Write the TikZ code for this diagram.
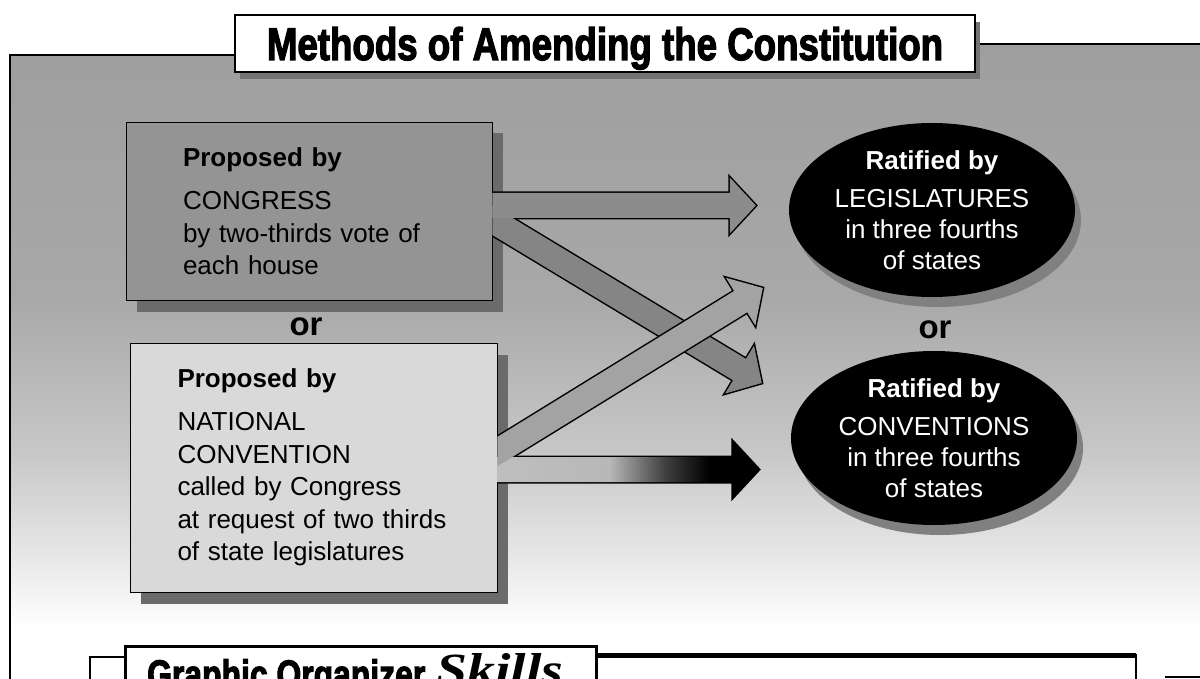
\documentclass[tikz,border=0pt]{standalone}
\usepackage{fontspec}
\setmainfont{Liberation Sans}
\newfontfamily\heavyfont{Liberation Sans}[BoldFeatures={FakeBold=3}]
\newfontfamily\skillfont{Liberation Serif}
\usepackage{graphicx}
\usetikzlibrary{calc,shapes.geometric,shadows}

% grey wash of the panel, dark at the top and fading out at the bottom
\pgfdeclareverticalshading{backfade}{100bp}{color(0bp)=(white); color(29bp)=(white); color(35bp)=(black!10); color(43bp)=(black!22); color(55bp)=(black!34); color(75bp)=(black!38); color(100bp)=(black!38)}
% light grey shaft going to black at the head
\pgfdeclarehorizontalshading{darkarrow}{100bp}{color(0bp)=(black!25); color(25bp)=(black!25); color(48bp)=(black!28); color(58bp)=(black!75); color(66bp)=(black); color(100bp)=(black)}

\tikzset{
  frameline/.style={line width=2.5pt},
  propbox/.style={draw=black, line width=0.8pt, rectangle, inner sep=0pt, align=left,
    font=\fontsize{26}{32.5}\selectfont,
    drop shadow={opacity=1, fill=black!58, shadow xshift=11pt, shadow yshift=-11.5pt}},
  ratify/.style={ellipse, fill=black, text=white, inner sep=0pt, align=center,
    minimum width=286pt, minimum height=174pt, font=\fontsize{26}{31}\selectfont,
    drop shadow={opacity=1, fill=black!50, shadow xshift=6pt, shadow yshift=-10pt}},
  ortext/.style={font=\fontsize{33}{33}\selectfont\bfseries, inner sep=0pt}
}

% fat arrow from #1 to #2, drawn with the options #3
% (the tail starts 15pt behind #1, so it can be clipped at the box edge)
\newcommand{\fatarrow}[3]{%
  \coordinate (ht) at ($(#1)!-15pt!(#2)$);
  \coordinate (hb) at ($(#2)!26pt!(#1)$);
  \path[#3] ($(ht)!12.5pt!90:(#2)$) -- ($(hb)!12.5pt!90:(#2)$) -- ($(hb)!28pt!90:(#2)$)
    -- (#2) -- ($(hb)!28pt!-90:(#2)$) -- ($(hb)!12.5pt!-90:(#2)$) -- ($(ht)!12.5pt!-90:(#2)$) -- cycle;
}

\begin{document}
\begin{tikzpicture}[x=1pt,y=-1pt]
\useasboundingbox (0,0) rectangle (1200,679);

% Panel background and frame
\shade[shading=backfade] (10,55) -- (235,55) -- (235,44) -- (1200,44) -- (1200,679) -- (10,679) -- cycle;
\draw [frameline] (10,679) -- (10,55) -- (235,55);
\draw [frameline] (975,44) -- (1200,44);

% Title
\node [draw=black, line width=2.5pt, fill=white, inner sep=0pt, text depth=0pt,
  minimum width=740pt, minimum height=57pt,
  drop shadow={opacity=1, fill=black!55, shadow xshift=5pt, shadow yshift=-7pt}] (title) at (605,43.5)
  {\resizebox{676pt}{33pt}{\heavyfont\bfseries Methods of Amending the Constitution}};

% Proposal boxes
\node [propbox, fill=black!42, minimum width=366pt, minimum height=178pt, text width=252pt] (congress) at (309,211)
  {\textbf{Proposed by}\\[11pt] CONGRESS\\ by two-thirds vote of\\ each house};
\node [ortext] (orleft) at (306,327) {or};
\node [propbox, fill=black!15, minimum width=367pt, minimum height=249pt, text width=272pt] (national) at (313.5,467.5)
  {\textbf{Proposed by}\\[11pt] NATIONAL\\ CONVENTION\\ called by Congress\\ at request of two thirds\\ of state legislatures};

% Ratification ellipses
\node [ratify] (legis) at (932,210) {\textbf{Ratified by}\\[7pt] LEGISLATURES\\ in three fourths\\ of states};
\node [ortext] (orright) at (935,330) {or};
\node [ratify] (conv) at (934,438) {\textbf{Ratified by}\\[7pt] CONVENTIONS\\ in three fourths\\ of states};

% Arrow ends
\coordinate (a1) at ($(congress.east)+(0,-5.5)$);
\coordinate (a2) at ($(legis.west)+(-33,-4.5)$);
\coordinate (b1) at ($(congress.east)+(0,9.5)$);
\coordinate (b2) at ($(conv.west)+(-29,-55)$);
\coordinate (c1) at ($(national.east)+(0,-16)$);
\coordinate (c2) at ($(legis.west)+(-26,78)$);
\coordinate (d1) at ($(national.east)+(0,2)$);
\coordinate (d2) at ($(conv.west)+(-32,31.5)$);

% Outlines first, then fills, so the shafts merge where they leave a box
\begin{scope}
\clip (congress.east |- title.north) rectangle (1200,679);
\foreach \s/\e in {b1/b2, a1/a2} {
\fatarrow{\s}{\e}{draw=black, line width=3pt}
}
\fatarrow{b1}{b2}{fill=black!48}
\fatarrow{a1}{a2}{fill=black!45}
\end{scope}
\begin{scope}
\clip (national.east |- title.north) rectangle (1200,679);
\foreach \s/\e in {d1/d2, c1/c2} {
\fatarrow{\s}{\e}{draw=black, line width=3pt}
}
\fatarrow{d1}{d2}{shade, shading=darkarrow}
\fatarrow{c1}{c2}{fill=black!36}
\end{scope}

% Skills boxes, cut by the lower edge
\begin{scope}
\clip (0,0) rectangle (1200,679);
\draw [line width=2pt, fill=white] (90,657) rectangle (140,700);
\node [draw=black, line width=2.5pt, fill=white, anchor=north west, minimum width=471pt, minimum height=60pt] (orgbox) at (124,645) {};
\node [anchor=north west, inner sep=0pt] (orgtitle) at ($(orgbox.north west)+(23,14)$)
  {\resizebox{278pt}{29pt}{\heavyfont\bfseries Graphic Organizer}};
\node [anchor=north west, inner sep=0pt] (skills) at ($(orgbox.north west)+(312,8)$)
  {\resizebox{127pt}{32pt}{\skillfont\bfseries\itshape Skills}};
\draw [line width=2pt, fill=white] (597,655) rectangle (1136,700);
\draw [line width=5pt] (597,655) -- (1136,655);
\draw [line width=2.5pt] (1165,677) -- (1200,677);
\end{scope}
\end{tikzpicture}
\end{document}
